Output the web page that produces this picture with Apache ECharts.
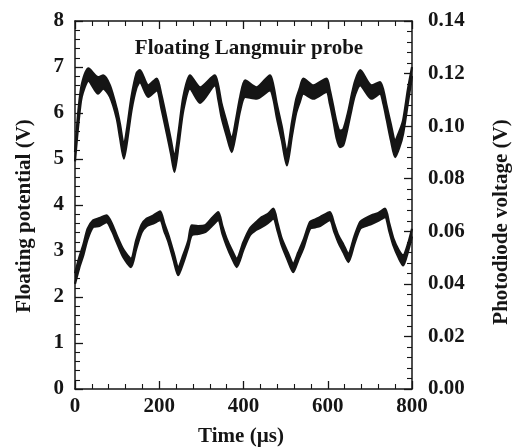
<!DOCTYPE html>
<html>
<head>
<meta charset="utf-8">
<script src="https://cdn.jsdelivr.net/npm/echarts@6/dist/echarts.min.js"></script>
<style>
html,body{margin:0;padding:0;background:#fff;}
#chart{width:518px;height:447px;}
</style>
</head>
<body>
<div id="chart"></div>
<script>
// Floating Langmuir probe potential (left axis, V): noisy band read as lower/upper envelopes
const probeTime = [0, 8, 16, 32, 55, 67, 83, 99, 107, 116, 124, 134, 146, 154, 174, 194, 205, 218, 228, 236, 246, 257, 273, 297, 332, 340, 348, 360, 372, 382, 392, 404, 431, 463, 471, 479, 491, 503, 515, 525, 534, 542, 566, 597, 605, 613, 621, 629, 637, 649, 657, 665, 677, 704, 724, 732, 740, 750, 760, 770, 779, 790, 800];
const probeLow  = [4.95, 5.75, 6.35, 6.7, 6.42, 6.53, 6.35, 5.88, 5.45, 5.01, 5.4, 6.05, 6.55, 6.67, 6.35, 6.49, 6.1, 5.55, 5.1, 4.72, 5.3, 6.05, 6.53, 6.22, 6.6, 6.3, 5.9, 5.5, 5.15, 5.55, 6.05, 6.35, 6.31, 6.49, 6.3, 5.9, 5.4, 4.86, 5.5, 6.0, 6.25, 6.42, 6.31, 6.46, 6.2, 5.85, 5.45, 5.26, 5.3, 5.75, 6.1, 6.4, 6.6, 6.31, 6.42, 6.2, 5.85, 5.4, 5.04, 5.25, 5.55, 6.2, 6.8];
const probeHigh = [5.15, 6.05, 6.62, 6.97, 6.78, 6.82, 6.6, 6.1, 5.75, 5.3, 5.7, 6.35, 6.86, 6.93, 6.6, 6.75, 6.4, 5.85, 5.4, 5.04, 5.6, 6.35, 6.82, 6.56, 6.82, 6.6, 6.2, 5.8, 5.44, 5.85, 6.35, 6.71, 6.56, 6.82, 6.6, 6.2, 5.7, 5.15, 5.8, 6.3, 6.55, 6.75, 6.6, 6.75, 6.5, 6.15, 5.8, 5.62, 5.65, 6.05, 6.4, 6.7, 6.93, 6.6, 6.67, 6.5, 6.15, 5.75, 5.41, 5.6, 5.85, 6.5, 7.0];

// Optical emission photodiode voltage (right axis, V)
const emissionTime = [0, 10, 20, 30, 43, 58, 75, 88, 99, 115, 133, 145, 158, 170, 186, 202, 212, 222, 234, 245, 257, 269, 277, 292, 309, 325, 340, 350, 360, 372, 384, 400, 415, 430, 443, 457, 471, 481, 491, 505, 518, 530, 542, 558, 570, 582, 605, 615, 625, 637, 649, 663, 677, 690, 704, 720, 736, 746, 756, 768, 779, 790, 800];
const emissionLow  = [0.040, 0.046, 0.051, 0.057, 0.0616, 0.062, 0.0635, 0.060, 0.0558, 0.050, 0.0464, 0.053, 0.0595, 0.062, 0.063, 0.0642, 0.060, 0.0558, 0.049, 0.0433, 0.048, 0.054, 0.0585, 0.059, 0.0597, 0.062, 0.0642, 0.059, 0.0545, 0.050, 0.0464, 0.053, 0.0584, 0.0605, 0.0616, 0.063, 0.0648, 0.060, 0.0545, 0.049, 0.0445, 0.049, 0.0535, 0.061, 0.0615, 0.062, 0.0642, 0.060, 0.0558, 0.052, 0.0483, 0.055, 0.061, 0.062, 0.0628, 0.064, 0.0654, 0.060, 0.0545, 0.050, 0.047, 0.052, 0.058];
const emissionHigh = [0.044, 0.050, 0.055, 0.061, 0.0642, 0.065, 0.0661, 0.0628, 0.0585, 0.053, 0.0496, 0.0565, 0.0625, 0.0648, 0.066, 0.0676, 0.063, 0.0585, 0.052, 0.0464, 0.051, 0.0566, 0.0623, 0.062, 0.0623, 0.065, 0.0673, 0.062, 0.0572, 0.053, 0.0496, 0.056, 0.061, 0.0635, 0.0654, 0.0665, 0.0686, 0.063, 0.0572, 0.052, 0.0477, 0.052, 0.0565, 0.0636, 0.0645, 0.0654, 0.0673, 0.063, 0.0585, 0.055, 0.0515, 0.058, 0.0636, 0.065, 0.0661, 0.067, 0.0686, 0.063, 0.0572, 0.053, 0.0509, 0.055, 0.061];

// Axis ranges / tick steps
const xRange = [0, 800, 200];
const leftRange = [0, 8, 1];
const rightRange = [0, 0.14, 0.02];

const FONT = "'Liberation Serif','Times New Roman',serif";
const INK = '#151515';

const chart = echarts.init(document.getElementById('chart'), null, {renderer: 'canvas'});

const tickStyle = {show: true, inside: true, length: 8, lineStyle: {color: INK, width: 1.3}};
const minorStyle = {show: true, splitNumber: 5, length: 5, lineStyle: {color: INK, width: 1.1}};
const lineStyleAxis = {show: true, onZero: false, lineStyle: {color: INK, width: 1.5}};
const labelStyle = {color: INK, fontFamily: FONT, fontWeight: 'bold', fontSize: 21};

// A band is drawn as: upper envelope filled black down to the axis, then lower envelope filled white.
function band(time, low, high, name, yIdx) {
  const common = {
    type: 'line', yAxisIndex: yIdx, xAxisIndex: 0, smooth: 0.25,
    symbol: 'none', silent: true, animation: false,
    lineStyle: {color: INK, width: 2.2, join: 'round'}
  };
  return [
    Object.assign({}, common, {name: name + '-high', data: time.map((t, i) => [t, high[i]]),
      areaStyle: {color: INK, opacity: 1}}),
    Object.assign({}, common, {name: name + '-low', data: time.map((t, i) => [t, low[i]]),
      areaStyle: {color: '#ffffff', opacity: 1}})
  ];
}

chart.setOption({
  animation: false,
  backgroundColor: '#fff',
  grid: {left: 75, right: 106, top: 21, bottom: 58, containLabel: false},
  xAxis: [
    {type: 'value', position: 'bottom', z: 10, min: xRange[0], max: xRange[1], interval: xRange[2],
     axisLine: lineStyleAxis, axisTick: tickStyle, minorTick: minorStyle, splitLine: {show: false},
     axisLabel: Object.assign({margin: 7}, labelStyle)},
    {type: 'value', position: 'top', z: 10, min: xRange[0], max: xRange[1], interval: xRange[2],
     axisLine: lineStyleAxis, axisTick: tickStyle, minorTick: minorStyle, splitLine: {show: false},
     axisLabel: {show: false}}
  ],
  yAxis: [
    {type: 'value', position: 'left', z: 10, min: leftRange[0], max: leftRange[1], interval: leftRange[2],
     axisLine: lineStyleAxis, axisTick: tickStyle, minorTick: minorStyle, splitLine: {show: false},
     axisLabel: Object.assign({margin: 11}, labelStyle)},
    {type: 'value', position: 'right', z: 10, min: rightRange[0], max: rightRange[1], interval: rightRange[2],
     axisLine: lineStyleAxis, axisTick: tickStyle, minorTick: minorStyle, splitLine: {show: false},
     axisLabel: Object.assign({margin: 16, formatter: v => v.toFixed(2)}, labelStyle)}
  ],
  series: [].concat(
    band(probeTime, probeLow, probeHigh, 'probe', 0),
    band(emissionTime, emissionLow, emissionHigh, 'emission', 1)
  ),
  graphic: [
    {type: 'text', x: 249, y: 49, silent: true,
     style: {text: 'Floating Langmuir probe', fill: INK, font: 'bold 21px ' + FONT, textAlign: 'center', textVerticalAlign: 'middle'}},
    {type: 'text', x: 233, y: 294, silent: true,
     style: {text: 'Optical emission', fill: INK, font: 'bold 21px ' + FONT, textAlign: 'center', textVerticalAlign: 'middle'}},
    {type: 'text', x: 241, y: 437, silent: true,
     style: {text: 'Time (\u00b5s)', fill: INK, font: 'bold 21px ' + FONT, textAlign: 'center', textVerticalAlign: 'middle'}},
    {type: 'text', x: 25, y: 216, rotation: Math.PI / 2, silent: true,
     style: {text: 'Floating potential (V)', fill: INK, font: 'bold 21px ' + FONT, textAlign: 'center', textVerticalAlign: 'middle'}},
    {type: 'text', x: 502, y: 222, rotation: Math.PI / 2, silent: true,
     style: {text: 'Photodiode voltage (V)', fill: INK, font: 'bold 21px ' + FONT, textAlign: 'center', textVerticalAlign: 'middle'}}
  ]
});
</script>
</body>
</html>
